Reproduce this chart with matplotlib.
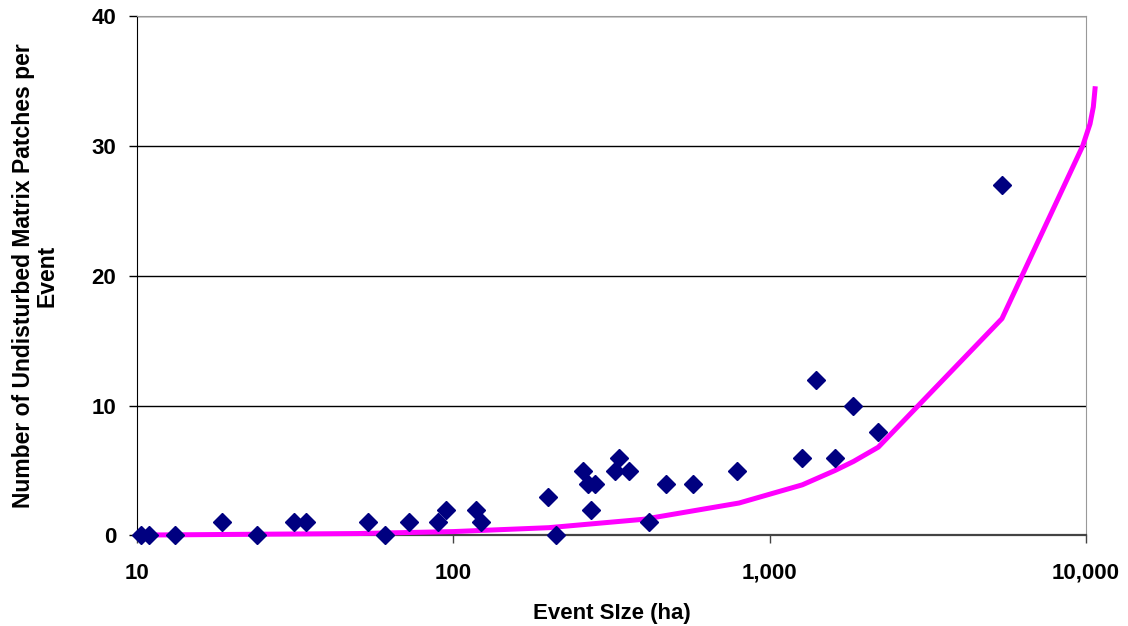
import matplotlib.pyplot as plt
from matplotlib.ticker import FuncFormatter

plt.rcParams["font.family"] = ["Liberation Sans", "DejaVu Sans"]
plt.rcParams["font.weight"] = "bold"

# observed events: size (ha) and number of undisturbed patches
event_size = [10.3, 10.9, 13.2, 18.6, 23.9, 31.3, 34.2, 53.7, 60.8, 72.5,
              89.5, 94.8, 118, 122, 199, 211, 256, 266, 272, 281,
              324, 333, 360, 414, 470, 571, 791, 1268, 1403, 1607,
              1840, 2204, 5423]
patches = [0, 0, 0, 1, 0, 1, 1, 1, 0, 1,
           1, 2, 2, 1, 3, 0, 5, 4, 2, 4,
           5, 6, 5, 1, 4, 4, 5, 6, 12, 6,
           10, 8, 27]

# fitted curve
fit_size = [10, 50, 100, 200, 400, 800, 1268, 1607, 1840, 2204, 5423,
            9761, 10295, 10545, 10677]
fit_patches = [0.03, 0.15, 0.3, 0.6, 1.25, 2.5, 3.9, 5.0, 5.7, 6.8, 16.7,
               30.0, 31.7, 33.0, 34.4]

fig = plt.figure(figsize=(11.28, 6.26), dpi=100)
ax = fig.add_axes([0.1215, 0.1446, 0.8413, 0.8298])

ax.plot(fit_size, fit_patches, color="#FF00FF", linewidth=3.6, clip_on=False,
        zorder=3, solid_joinstyle="round")
ax.plot(event_size, patches, linestyle="none", marker="D", markersize=9.2,
        color="#000080", markeredgecolor="#000080", markeredgewidth=1,
        clip_on=False, zorder=4)

ax.set_xscale("log")
ax.set_xlim(10, 10000)
ax.set_ylim(0, 40)
ax.set_yticks([0, 10, 20, 30, 40])
ax.set_xticks([10, 100, 1000, 10000])
ax.xaxis.set_minor_locator(plt.NullLocator())
ax.xaxis.set_major_formatter(FuncFormatter(lambda v, _: f"{v:,.0f}"))

ax.grid(axis="y", color="black", linewidth=1)
ax.set_axisbelow(True)
for side in ["top", "right"]:
    ax.spines[side].set_color("#999999")
ax.spines["left"].set_color("black")
ax.spines["bottom"].set_color("#444444")
ax.spines["bottom"].set_linewidth(1.6)

ax.tick_params(axis="both", direction="out", length=6, width=1, labelsize=16)
ax.tick_params(axis="y", pad=8.8)
ax.tick_params(axis="x", pad=13.5, colors="#444444", labelcolor="black")

ax.set_xlabel("Event SIze (ha)", fontsize=16, fontweight="bold", labelpad=14)
ax.set_ylabel("Number of Undisturbed Matrix Patches per\nEvent", fontsize=16.5,
              fontweight="bold", labelpad=24, linespacing=1.0)

fig.savefig("out.png", dpi=100)
